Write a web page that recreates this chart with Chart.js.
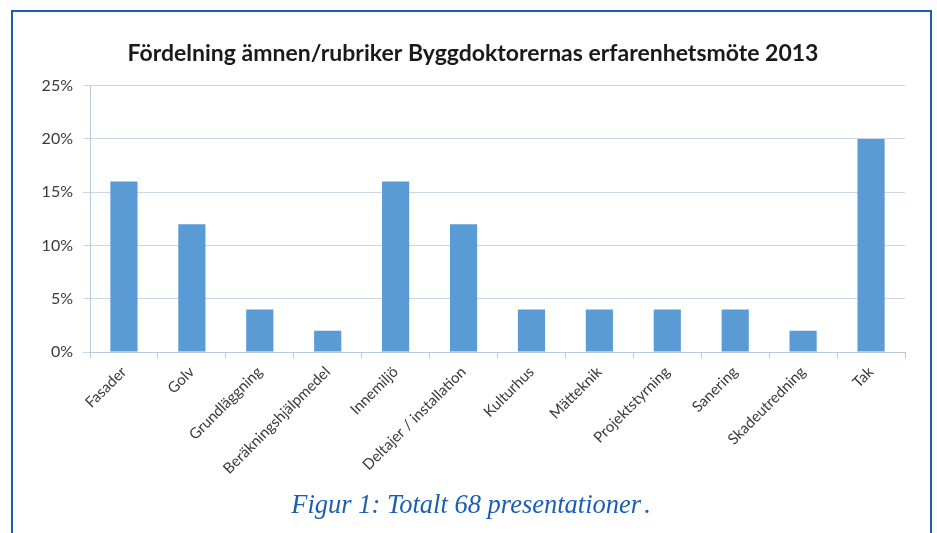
<!DOCTYPE html>
<html>
<head>
<meta charset="utf-8">
<script src="https://cdn.jsdelivr.net/npm/chart.js@4.4.1/dist/chart.umd.min.js"></script>
<style>
  html,body{margin:0;padding:0;background:#fff;}
  body{width:937px;height:533px;position:relative;overflow:hidden;}
  #frame{position:absolute;left:11px;top:10px;width:917px;height:560px;border:2px solid #1b5fb3;box-sizing:content-box;}
  #wrap{position:absolute;left:0;top:0;width:937px;height:533px;}
  #caption{position:absolute;left:0;width:937px;top:489px;text-align:center;
    font-family:"Liberation Serif","DejaVu Serif",serif;font-style:italic;font-size:26.5px;color:#1b5fb3;padding-left:5px;box-sizing:border-box;}
  #caption .dot{margin-left:3px;}
</style>
</head>
<body>
<div id="frame"></div>
<div id="wrap"><canvas id="c" width="937" height="533"></canvas></div>
<div id="caption">Figur 1: Totalt 68 presentationer<span class="dot">.</span></div>
<script>
const categories = ["Fasader","Golv","Grundläggning","Beräkningshjälpmedel","Innemiljö","Deltajer / installation","Kulturhus","Mätteknik","Projektstyrning","Sanering","Skadeutredning","Tak"];
const percentValues = [16, 12, 4, 2, 16, 12, 4, 4, 4, 4, 2, 20];
const yTicks = [0, 5, 10, 15, 20, 25];
const chartTitle = "Fördelning ämnen/rubriker Byggdoktorernas erfarenhetsmöte 2013";

const FONT = "Lato, 'Open Sans', 'Liberation Sans', sans-serif";

new Chart(document.getElementById('c'), {
  type: 'bar',
  data: {
    labels: categories,
    datasets: [{
      data: percentValues,
      backgroundColor: '#5b9bd5',
      borderWidth: 0,
      categoryPercentage: 1.0,
      barPercentage: 0.4
    }]
  },
  options: {
    responsive: false,
    animation: false,
    devicePixelRatio: 1,
    layout: { padding: { left: 41, right: 32, top: 36, bottom: 0 } },
    plugins: {
      legend: { display: false },
      tooltip: { enabled: false },
      title: {
        display: true,
        text: chartTitle,
        color: '#1a1a1a',
        font: { family: FONT, size: 23, weight: 'bold' },
        padding: { top: 4, bottom: 18 }
      }
    },
    scales: {
      x: {
        grid: { display: true, drawOnChartArea: false, drawTicks: true, tickLength: 6, color: '#b8cadb', offset: true },
        border: { display: true, color: '#b8cadb', width: 1 },
        ticks: {
          color: '#3a3a3a',
          font: { family: FONT, size: 15 },
          minRotation: 45, maxRotation: 45,
          autoSkip: false,
          padding: 5
        },
        afterFit: (s) => { s.height = 181; }
      },
      y: {
        min: 0, max: 25,
        afterBuildTicks: (s) => { s.ticks = yTicks.map(v => ({ value: v })); },
        grid: { color: '#c9d7e4', tickLength: 7, lineWidth: 1 },
        border: { display: true, color: '#b8cadb', width: 1 },
        ticks: {
          color: '#3a3a3a',
          font: { family: FONT, size: 16 },
          padding: 10,
          callback: (v) => v + '%'
        },
        afterFit: (s) => { s.width = 49; }
      }
    }
  }
});
</script>
</body>
</html>
